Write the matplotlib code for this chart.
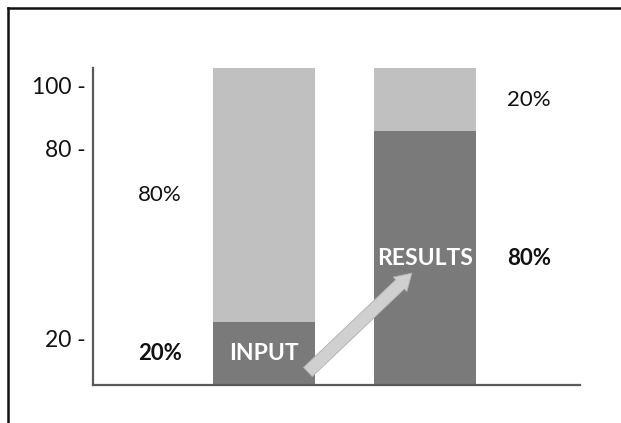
import matplotlib
matplotlib.use("Agg")
import matplotlib.pyplot as plt
import matplotlib.transforms as mtransforms
from matplotlib.lines import Line2D

# ----------------------------
# Datos
# ----------------------------
categorias = ["INPUT", "RESULTS"]
parte_oscura = [20, 80]
parte_clara = [80, 20]
ticks_y = [100, 80, 20]
etiquetas_y = ["100 -", "80 -", "20 -"]

OSCURO = "#7a7a7a"
CLARO = "#c0c0c0"
FUENTE = "Lato"

# ----------------------------
# Figura
# ----------------------------
fig = plt.figure(figsize=(6.21, 4.23), dpi=100)
ax = fig.add_axes([0.1498, 0.0898, 0.784, 0.7494])

x = list(range(len(categorias)))
ancho = 0.634
ax.bar(x, parte_oscura, width=ancho, color=OSCURO, linewidth=0)
ax.bar(x, parte_clara, bottom=parte_oscura, width=ancho, color=CLARO, linewidth=0)

ax.set_xlim(-1.062, 1.963)
ax.set_ylim(0, 100)

# ejes
for lado in ["top", "right"]:
    ax.spines[lado].set_visible(False)
for lado in ["left", "bottom"]:
    ax.spines[lado].set_color("#5a5a5a")
    ax.spines[lado].set_linewidth(1.6)
ax.set_xticks([])
ax.set_yticks(ticks_y)
ax.set_yticklabels(etiquetas_y, fontsize=16.5, family=FUENTE, color="#111111")
ax.tick_params(axis="y", length=0, pad=5)
desplazar = mtransforms.ScaledTranslation(0, -17 / 100, fig.dpi_scale_trans)
for lbl in ax.get_yticklabels():
    lbl.set_transform(lbl.get_transform() + desplazar)

# porcentajes al lado de cada barra
for i in x:
    lado = -0.646 if i == 0 else 0.646
    ax.text(i + lado, parte_oscura[i] / 2, f"{parte_oscura[i]}%",
            ha="center", va="center", fontsize=16, family=FUENTE,
            fontweight="bold", color="#111111")
    ax.text(i + lado, parte_oscura[i] + parte_clara[i] / 2, f"{parte_clara[i]}%",
            ha="center", va="center", fontsize=16, family=FUENTE, color="#111111")
    ax.text(i, parte_oscura[i] / 2, categorias[i], ha="center", va="center",
            fontsize=16.5, family=FUENTE, fontweight="bold", color="white")

# flecha
ax.annotate("", xy=(0.919, 35.3), xytext=(0.273, 4.1),
            arrowprops=dict(arrowstyle="simple,head_width=1.1,head_length=0.9,tail_width=0.7",
                            facecolor="#d0d0d0", edgecolor="#b0b0b0", linewidth=0.6,
                            shrinkA=0, shrinkB=0, mutation_scale=13))

# marco
fig.add_artist(Line2D([0.0129, 1.0], [0.981, 0.981], transform=fig.transFigure,
                      color="#111111", linewidth=1.8))
fig.add_artist(Line2D([0.0129, 0.0129], [0.0, 0.981], transform=fig.transFigure,
                      color="#111111", linewidth=1.8))

fig.savefig("out.png", dpi=100)
